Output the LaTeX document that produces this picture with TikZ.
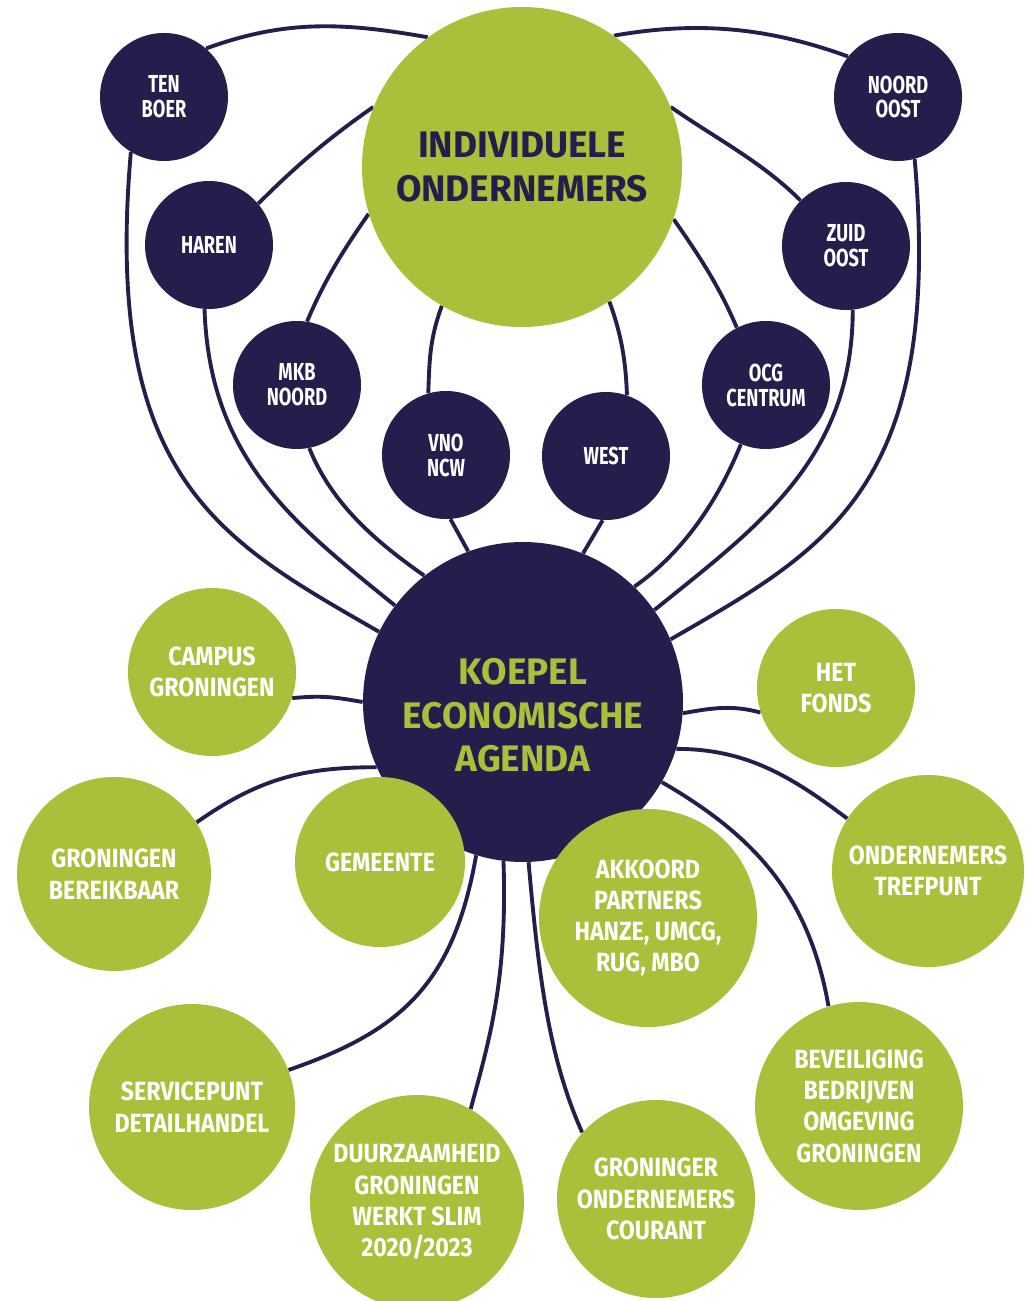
\documentclass[tikz,border=0pt]{standalone}
\usepackage{fontspec}
\setmainfont{Fira Sans}
\newfontfamily\hubfont{Fira Sans}
\newfontfamily\districtfont[FakeStretch=0.74]{Fira Sans}
\newfontfamily\partnerfont[FakeStretch=0.88]{Fira Sans}
\usetikzlibrary{backgrounds}
\definecolor{navy}{RGB}{35,30,75}
\definecolor{leaf}{RGB}{168,192,58}

\begin{document}
\begin{tikzpicture}
% Styles
\tikzset{
    hub/.style={circle, inner sep=0pt, minimum size=6.4cm, align=center,
        font=\hubfont\bfseries\fontsize{21}{25}\selectfont},
    district/.style={circle, fill=navy, text=white, inner sep=0pt, minimum size=2.56cm,
        align=center, font=\districtfont\bfseries\fontsize{14}{14.2}\selectfont},
    partner/.style={circle, fill=leaf, text=white, inner sep=0pt, align=center,
        font=\partnerfont\bfseries\fontsize{15}{17.8}\selectfont},
    link/.style={draw=navy, line width=2.2pt}
}

\useasboundingbox (0, 0) rectangle (20.66, -26.02);

% Nodes
\node[hub, fill=leaf, text=navy] (indiv) at (10.44, -3.34) {INDIVIDUELE\\ONDERNEMERS};
\node[hub, fill=navy, text=leaf] (koepel) at (10.46, -14.04) {\rule{0pt}{30pt}KOEPEL\\ECONOMISCHE\\AGENDA};

\node[district] (tenboer) at (3.28, -1.94) {TEN\\BOER};
\node[district] (noordoost) at (17.96, -1.94) {NOORD\\OOST};
\node[district] (haren) at (4.18, -4.90) {HAREN};
\node[district] (zuidoost) at (16.92, -4.92) {ZUID\\OOST};
\node[district] (mkb) at (5.94, -7.70) {MKB\\NOORD};
\node[district] (ocg) at (15.32, -7.70) {OCG\\CENTRUM};
\node[district] (vno) at (8.92, -9.10) {VNO\\NCW};
\node[district] (west) at (12.12, -9.12) {WEST};

\node[partner, minimum size=3.36cm] (campus) at (4.24, -13.44) {CAMPUS\\GRONINGEN};
\node[partner, minimum size=3.16cm] (fonds) at (16.72, -13.76) {HET\\FONDS};
\node[partner, minimum size=3.88cm] (bereik) at (2.28, -17.48) {GRONINGEN\\BEREIKBAAR};
\node[partner, minimum size=3.40cm] (gemeente) at (7.60, -17.24) {GEMEENTE};
\node[partner, minimum size=4.36cm] (akkoord) at (12.96, -18.36) {AKKOORD\\PARTNERS\\HANZE, UMCG,\\RUG, MBO};
\node[partner, minimum size=3.84cm] (trefpunt) at (18.56, -17.42) {ONDERNEMERS\\TREFPUNT};
\node[partner, minimum size=4.12cm] (service) at (3.84, -22.14) {SERVICEPUNT\\DETAILHANDEL};
\node[partner, minimum size=4.28cm] (duurzaam) at (8.34, -24.04) {DUURZAAMHEID\\GRONINGEN\\WERKT SLIM\\2020/2023};
\node[partner, minimum size=3.96cm] (courant) at (13.12, -23.98) {GRONINGER\\ONDERNEMERS\\COURANT};
\node[partner, minimum size=4.16cm] (beveilig) at (17.18, -22.12) {BEVEILIGING\\BEDRIJVEN\\OMGEVING\\GRONINGEN};

% Connections
\begin{scope}[on background layer]
\draw[link] (tenboer.49) .. controls +(20:1.7) and +(170:1.7) .. (indiv.126);
\draw[link] (noordoost.141) .. controls +(160:1.7) and +(10:1.7) .. (indiv.55);
\draw[link] (haren.40) .. controls +(45:1.1) and +(215:1.1) .. (indiv.158);
\draw[link] (zuidoost.135) .. controls +(135:1.1) and +(325:1.1) .. (indiv.22);
\draw[link] (mkb.81) .. controls +(67:0.9) and +(235:0.9) .. (indiv.197);
\draw[link] (ocg.117) .. controls +(113:0.9) and +(305:0.9) .. (indiv.341);
\draw[link] (vno.106) .. controls +(88:0.7) and +(250:0.7) .. (indiv.240);
\draw[link] (west.71) .. controls +(92:0.7) and +(290:0.7) .. (indiv.303);

\draw[link] (tenboer.239) .. controls +(265:6.6) and +(150:3.6) .. (koepel.154);
\draw[link] (haren.266) .. controls +(272:3.0) and +(141:2.6) .. (koepel.143);
\draw[link] (mkb.281) .. controls +(292:1.2) and +(145:1.2) .. (koepel.128);
\draw[link] (vno.274) -- (koepel.110);
\draw[link] (west.267) -- (koepel.68);
\draw[link] (ocg.247) .. controls +(248:1.2) and +(35:1.2) .. (koepel.46);
\draw[link] (zuidoost.276) .. controls +(270:3.0) and +(39:2.6) .. (koepel.35);
\draw[link] (noordoost.285) .. controls +(275:6.6) and +(30:3.6) .. (koepel.23);

\draw[link] (campus.342) .. controls +(5:0.6) and +(170:0.6) .. (koepel.180);
\draw[link] (koepel.356) .. controls +(10:0.6) and +(165:0.6) .. (fonds.198);
\draw[link] (bereik.32) .. controls +(35:1.5) and +(180:1.5) .. (koepel.204);
\draw[link] (koepel.343) .. controls +(0:1.4) and +(143:1.4) .. (trefpunt.147);
\draw[link] (koepel.330) .. controls +(330:2.2) and +(100:2.2) .. (beveilig.107);
\draw[link] (koepel.253) .. controls +(260:2.6) and +(19:2.4) .. (service.21);
\draw[link] (koepel.263) .. controls +(272:2.4) and +(75:1.4) .. (duurzaam.60);
\draw[link] (koepel.272) .. controls +(275:2.4) and +(114:1.6) .. (courant.138);
\end{scope}
\end{tikzpicture}
\end{document}
